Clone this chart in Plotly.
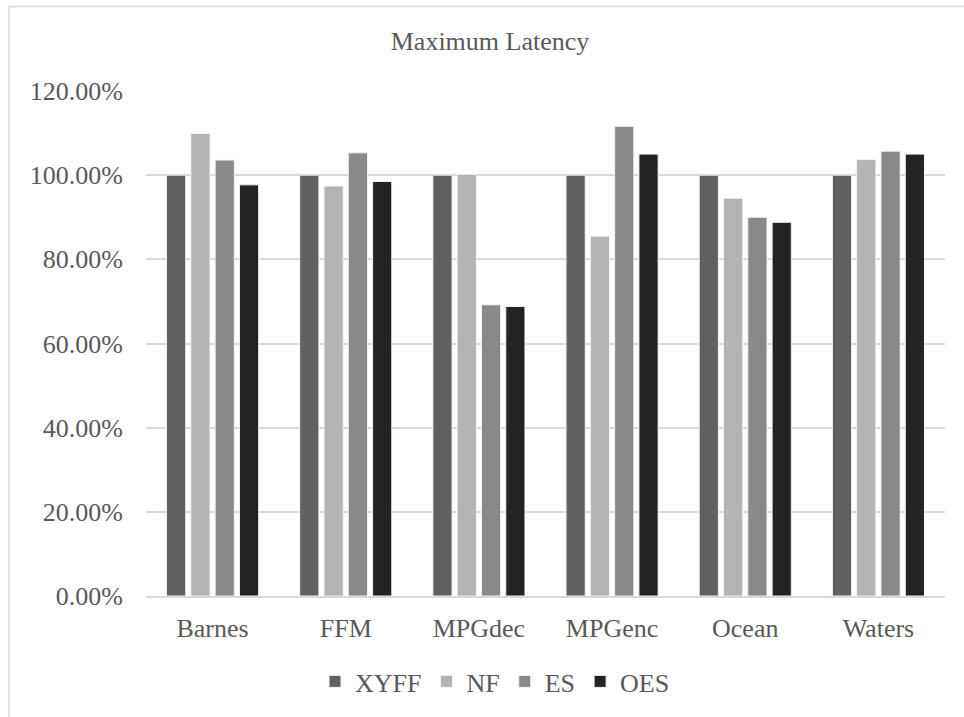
import plotly.graph_objects as go

categories = ["Barnes", "FFM", "MPGdec", "MPGenc", "Ocean", "Waters"]
series_names = ["XYFF", "NF", "ES", "OES"]
xyff = [1.000, 1.000, 1.000, 1.000, 1.000, 1.000]
nf = [1.099, 0.974, 1.002, 0.855, 0.945, 1.037]
es = [1.036, 1.053, 0.692, 1.116, 0.900, 1.057]
oes = [0.977, 0.985, 0.688, 1.050, 0.888, 1.050]
colors = ["#606060", "#b3b3b3", "#898989", "#232323"]
y_ticks = [0, 0.2, 0.4, 0.6, 0.8, 1.0, 1.2]

FAM = "Liberation Serif"
FS = 26
fig = go.Figure()
for name, vals, c in zip(series_names, [xyff, nf, es, oes], colors):
    fig.add_trace(go.Bar(
        x=categories, y=vals, name=name,
        marker=dict(color=c, line=dict(color="#f2f2f2", width=1)),
    ))

fig.update_layout(
    width=964, height=717,
    paper_bgcolor="white", plot_bgcolor="white",
    margin=dict(l=146, r=19, t=91, b=118),
    barmode="group", bargap=0.27, bargroupgap=0.21,
    font=dict(family=FAM, color="#595959", size=FS),
    title=dict(text="Maximum Latency", x=490/964, xanchor="center", y=1 - 41/717, yanchor="middle",
               font=dict(family=FAM, size=FS, color="#595959")),
    legend=dict(orientation="h", x=(495 - 146) / 799, xanchor="center", y=(599 - 685) / 508,
                yanchor="middle",
                font=dict(family=FAM, size=FS, color="#595959"), traceorder="normal",
                itemwidth=30, tracegroupgap=0),
    showlegend=True,
)
fig.update_yaxes(range=[0, 1.2], tickvals=y_ticks, tickformat=".2%",
                 showgrid=True, gridcolor="#d9d9d9", gridwidth=1.5,
                 zeroline=False, showline=False, ticks="", ticklen=0,
                 ticklabelstandoff=22,
                 tickfont=dict(family=FAM, size=FS, color="#595959"))
fig.update_xaxes(showline=True, linecolor="#d9d9d9", linewidth=2, ticks="",
                 ticklabelstandoff=8,
                 tickfont=dict(family=FAM, size=FS, color="#595959"))
fig.add_shape(type="rect", xref="paper", yref="paper",
              x0=-137/799, x1=1.2, y0=-0.5, y1=1 + 85/508,
              line=dict(color="#d9d9d9", width=1.5), fillcolor="rgba(0,0,0,0)", layer="below")

fig.write_html("out.html", config={"displayModeBar": False},
               post_script="document.body.style.margin='0';")
